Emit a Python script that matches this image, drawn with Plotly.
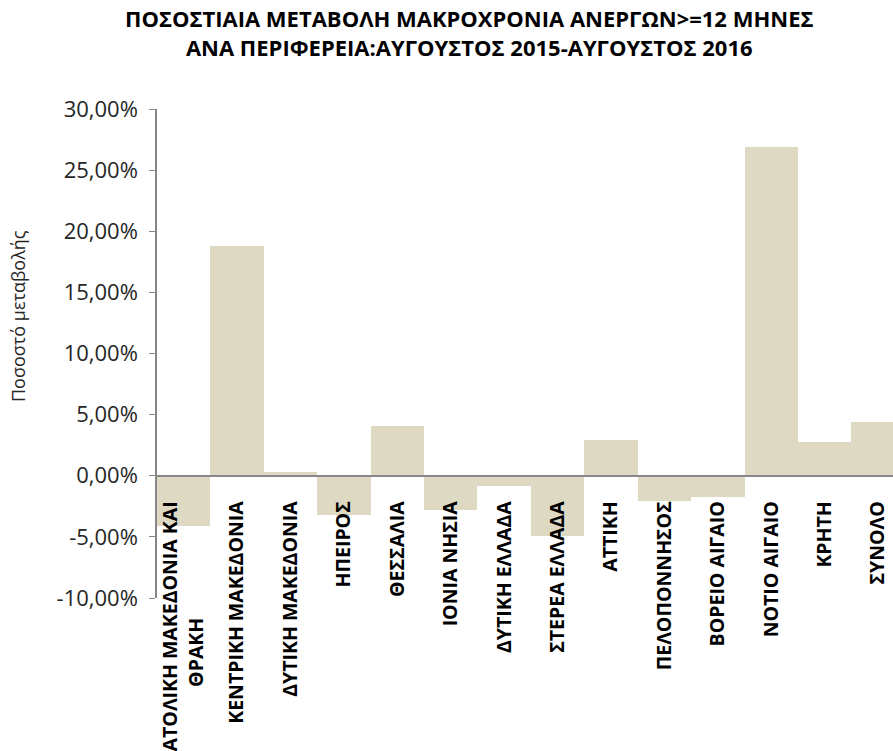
import plotly.graph_objects as go

categories = [
    "ΑΝΑΤΟΛΙΚΗ ΜΑΚΕΔΟΝΙΑ ΚΑΙ<br>ΘΡΑΚΗ" + "\u00a0" * 23,
    "ΚΕΝΤΡΙΚΗ ΜΑΚΕΔΟΝΙΑ",
    "ΔΥΤΙΚΗ ΜΑΚΕΔΟΝΙΑ",
    "ΗΠΕΙΡΟΣ",
    "ΘΕΣΣΑΛΙΑ",
    "ΙΟΝΙΑ ΝΗΣΙΑ",
    "ΔΥΤΙΚΗ ΕΛΛΑΔΑ",
    "ΣΤΕΡΕΑ ΕΛΛΑΔΑ",
    "ΑΤΤΙΚΗ",
    "ΠΕΛΟΠΟΝΝΗΣΟΣ",
    "ΒΟΡΕΙΟ ΑΙΓΑΙΟ",
    "ΝΟΤΙΟ ΑΙΓΑΙΟ",
    "ΚΡΗΤΗ",
    "ΣΥΝΟΛΟ",
]
values = [-0.0409, 0.1883, 0.0030, -0.0324, 0.0406, -0.0284, -0.0082,
          -0.0490, 0.0292, -0.0210, -0.0177, 0.2690, 0.0273, 0.0439]

y_tick_values = [-0.10, -0.05, 0.0, 0.05, 0.10, 0.15, 0.20, 0.25, 0.30]
y_tick_labels = ["-10,00%", "-5,00%", "0,00%", "5,00%", "10,00%",
                 "15,00%", "20,00%", "25,00%", "30,00%"]

title_text = ("ΠΟΣΟΣΤΙΑΙΑ ΜΕΤΑΒΟΛΗ ΜΑΚΡΟΧΡΟΝΙΑ ΑΝΕΡΓΩΝ>=12 ΜΗΝΕΣ<br>"
              "ΑΝΑ ΠΕΡΙΦΕΡΕΙΑ:ΑΥΓΟΥΣΤΟΣ 2015-ΑΥΓΟΥΣΤΟΣ 2016")
y_title = "Ποσοστό μεταβολής"

fig = go.Figure(
    go.Bar(
        x=list(range(len(categories))),
        y=values,
        marker=dict(color="#DDD9C3", line=dict(width=0)),
        showlegend=False,
    )
)

fig.update_layout(
    width=893,
    height=751,
    margin=dict(l=157, r=0, t=109, b=153, autoexpand=False),
    paper_bgcolor="white",
    plot_bgcolor="white",
    bargap=0,
    font=dict(family="Open Sans", color="#000000"),
    xaxis=dict(
        tickmode="array",
        tickvals=list(range(len(categories))),
        ticktext=categories,
        range=[-0.5, 13.28],
        tickangle=-90,
        anchor="free",
        position=0.25,
        showline=True,
        linecolor="#868686",
        linewidth=1.5,
        ticks="",
        showgrid=False,
        zeroline=False,
        automargin=False,
        ticklabelstandoff=17,
        tickfont=dict(family="Open Sans", size=19.5, color="#000000", weight="bold"),
    ),
    yaxis=dict(
        range=[-0.1, 0.3],
        tickmode="array",
        tickvals=y_tick_values,
        ticktext=y_tick_labels,
        showline=True,
        linecolor="#868686",
        linewidth=1.5,
        ticks="outside",
        ticklen=6,
        tickcolor="#868686",
        showgrid=False,
        zeroline=False,
        automargin=False,
        ticklabelstandoff=7,
        tickfont=dict(family="Open Sans", size=22, color="#262626"),
    ),
    annotations=[
        dict(
            text="<b>" + title_text + "</b>",
            xref="paper",
            yref="paper",
            x=(469 - 157) / 736,
            y=(598 - 33) / 489,
            xanchor="center",
            yanchor="middle",
            showarrow=False,
            font=dict(family="Open Sans", size=22, color="#000000"),
        ),
        dict(
            text=y_title,
            xref="paper",
            yref="paper",
            x=(18 - 157) / 736,
            y=(598 - 316) / 489,
            xanchor="center",
            yanchor="middle",
            textangle=-90,
            showarrow=False,
            font=dict(family="Open Sans", size=18, color="#262626"),
        ),
    ],
)

fig.write_html(
    "out.html",
    config={"displayModeBar": False},
    post_script="document.body.style.margin='0';document.body.style.overflow='hidden';",
)
